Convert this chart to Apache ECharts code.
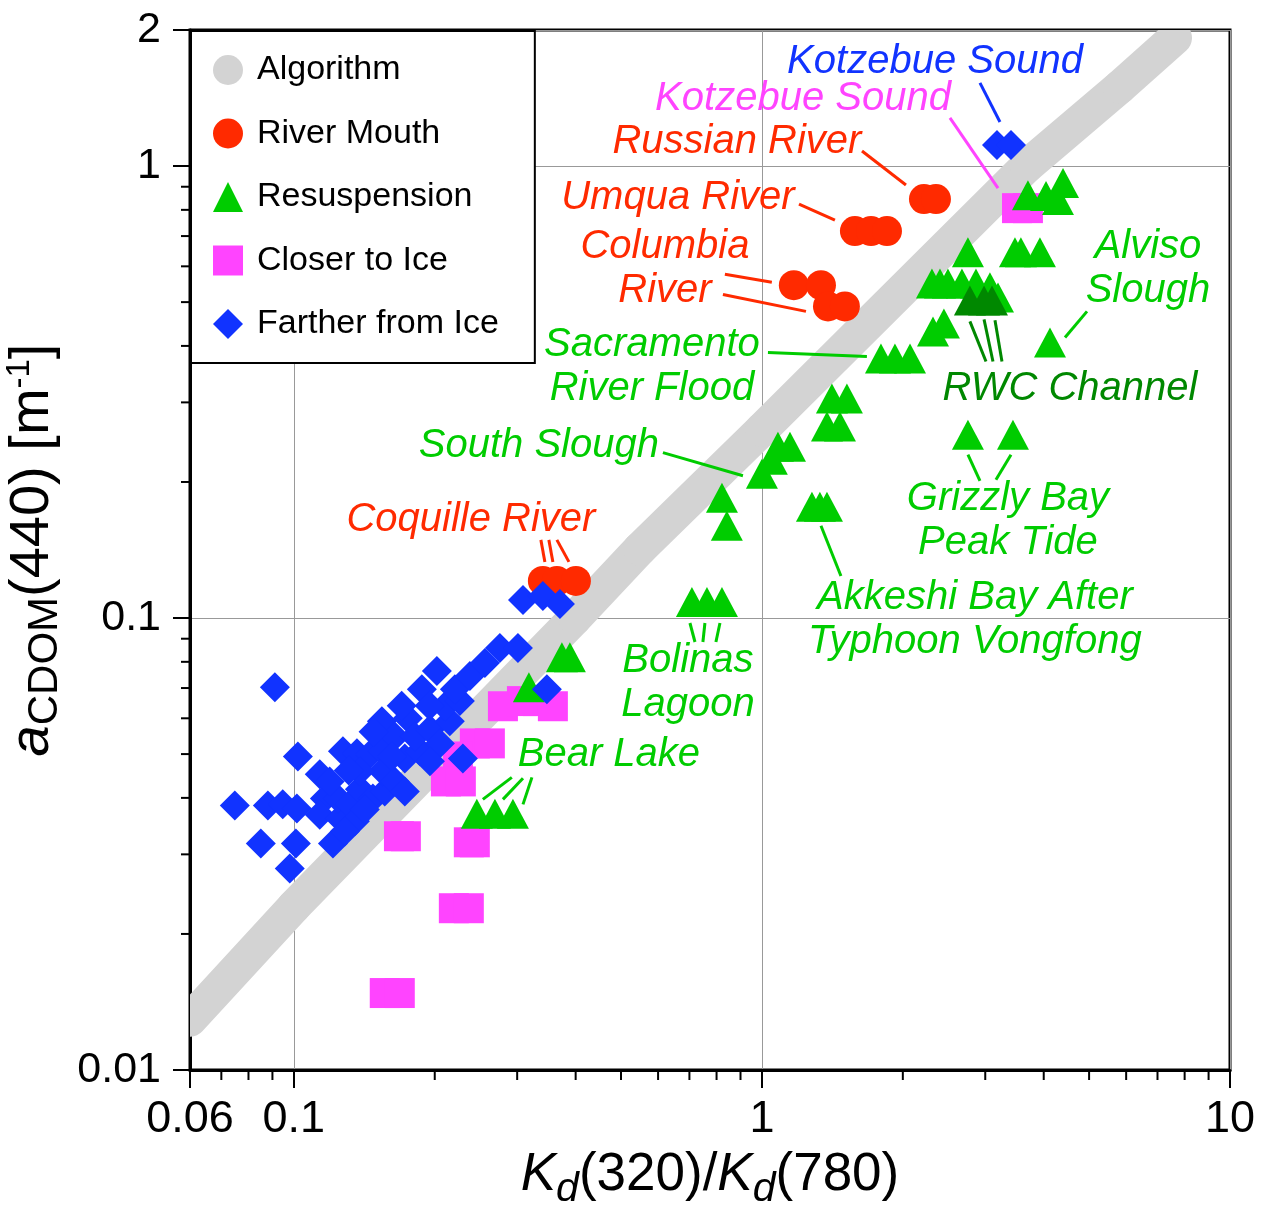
<!DOCTYPE html>
<html><head><meta charset="utf-8">
<script src="https://cdn.jsdelivr.net/npm/echarts@6/dist/echarts.min.js"></script>
<style>html,body{margin:0;padding:0;background:#fff}#c{width:1262px;height:1205px}</style>
</head><body><div id="c"></div>
<script>
const FONT = "'Liberation Sans', Arial, Helvetica, sans-serif";

// ---- Algorithm band (read along its centre) ----
const algorithmX = [0.05995, 0.1, 0.3985, 0.5487, 1.0, 3.683, 5.821, 7.630];
const algorithmY = [0.01291, 0.02298, 0.1, 0.1422, 0.2611, 1.0, 1.497, 1.922];

// ---- River Mouth ----
const riverX = [2.219, 2.354, 1.580, 1.710, 1.850, 1.170, 1.337, 1.384, 1.504, 0.3404, 0.3647, 0.4005];
const riverY = [0.845, 0.845, 0.718, 0.718, 0.718, 0.545, 0.545, 0.489, 0.489, 0.1208, 0.1208, 0.1208];

// ---- Resuspension ----
const resusX = [3.701, 4.045, 4.398, 4.290, 2.755, 3.472, 3.575, 3.926, 2.308, 2.401, 2.497, 2.675, 2.866, 3.070, 3.194,
  2.320, 2.448, 4.125, 1.796, 1.924, 2.072, 1.411, 1.519, 1.377, 1.468, 1.082, 1.148, 1.050, 1.0, 0.8215, 0.8415,
  1.279, 1.330, 1.377, 2.755, 3.438, 0.7087, 0.7631, 0.8215, 0.3738, 0.3888, 0.3178, 0.2460, 0.2689, 0.2938];
const resusY = [0.862, 0.858, 0.917, 0.841, 0.645, 0.645, 0.645, 0.645, 0.550, 0.550, 0.550, 0.550, 0.550, 0.539, 0.512,
  0.4306, 0.4486, 0.4072, 0.3752, 0.3752, 0.3752, 0.3059, 0.3059, 0.2652, 0.2652, 0.2394, 0.2394, 0.2240, 0.2086, 0.1845, 0.1600,
  0.1763, 0.1763, 0.1763, 0.2544, 0.2544, 0.1085, 0.1085, 0.1085, 0.0819, 0.0819, 0.0703, 0.0369, 0.0369, 0.0369];

// ---- RWC Channel (dark green resuspension) ----
const rwcX = [2.782, 2.982, 3.101];
const rwcY = [0.504, 0.504, 0.504];

// ---- Closer to Ice ----
const closeX = [3.507, 3.701, 0.2797, 0.3071, 0.3321, 0.3576, 0.2436, 0.2623, 0.2241, 0.2113, 0.2274,
  0.1677, 0.1735, 0.2365, 0.2436, 0.2197, 0.2365, 0.1564, 0.1684];
const closeY = [0.807, 0.807, 0.0638, 0.0655, 0.0655, 0.0638, 0.0528, 0.0528, 0.0494, 0.0435, 0.0435,
  0.0329, 0.0329, 0.0319, 0.0319, 0.0228, 0.0228, 0.0148, 0.0148];

// ---- Farther from Ice ----
const farX = [3.178, 3.405,
  0.0911, 0.0748, 0.0880, 0.0947, 0.1015, 0.0850, 0.1010, 0.0980, 0.1212, 0.1020,
  0.1136, 0.1165, 0.1136, 0.1254, 0.1242, 0.1273, 0.1364, 0.1454, 0.1549, 0.1317,
  0.1384, 0.1475, 0.1350, 0.1564, 0.1549, 0.1643, 0.1726, 0.1859, 0.1542, 0.1752,
  0.1643, 0.1814, 0.1953, 0.2051, 0.2154, 0.1877, 0.2021, 0.2102, 0.2263, 0.2208,
  0.2377, 0.2559, 0.2755, 0.3011, 0.3087, 0.3404, 0.3702, 0.3472, 0.2297,
  0.1418, 0.1285, 0.1620, 0.1384, 0.1953, 0.1726, 0.1193, 0.1310, 0.1480, 0.1700, 0.1950];
const farY = [1.113, 1.113,
  0.0703, 0.0385, 0.0385, 0.0387, 0.0379, 0.0317, 0.0317, 0.0279, 0.0317, 0.0494,
  0.0451, 0.0399, 0.0367, 0.0360, 0.0399, 0.0507, 0.0502, 0.0499, 0.0507, 0.0387,
  0.0418, 0.0399, 0.0355, 0.0413, 0.0458, 0.0435, 0.0489, 0.0507, 0.0591, 0.0600,
  0.0547, 0.0547, 0.0567, 0.0528, 0.0591, 0.0696, 0.0763, 0.0638, 0.0655, 0.0696,
  0.0744, 0.0795, 0.0858, 0.0858, 0.1096, 0.1119, 0.1074, 0.0696, 0.0489,
  0.0377, 0.0337, 0.0494, 0.0458, 0.0482, 0.0413, 0.0435, 0.0460, 0.0560, 0.0640, 0.0640];

// ---- Annotations (text centre in data units) ----
const annotationText = ['Kotzebue Sound', 'Kotzebue Sound', 'Russian River', 'Umqua River', 'Columbia\nRiver',
  'Sacramento\nRiver Flood', 'South Slough', 'Coquille River', 'Alviso\nSlough', 'RWC Channel',
  'Grizzly Bay\nPeak Tide', 'Akkeshi Bay After\nTyphoon Vongfong', 'Bolinas\nLagoon', 'Bear Lake'];
const annotationX = [2.343, 1.224, 0.8843, 0.6615, 0.6206, 0.5821, 0.3338, 0.2389, 6.679, 4.551, 3.355, 2.851, 0.6950, 0.4711];
const annotationY = [1.700, 1.408, 1.130, 0.849, 0.591, 0.360, 0.2406, 0.1650, 0.591, 0.3220, 0.1641, 0.0990, 0.0718, 0.0497];
const annotationGroup = ['far', 'close', 'river', 'river', 'river', 'resus', 'resus', 'river', 'resus', 'rwc', 'resus', 'resus', 'resus', 'resus'];

// ---- Leader lines (data units) ----
const leaderX1 = [2.923, 2.522, 1.636, 1.200, 0.8335, 0.8255, 1.030, 0.6145, 0.3371, 0.3506, 0.3647, 4.949, 2.782, 2.982, 3.147, 2.755, 3.405, 1.337, 0.7018, 0.7555, 0.8135, 0.2534, 0.2797, 0.3087];
const leaderY1 = [1.528, 1.278, 1.080, 0.824, 0.576, 0.520, 0.387, 0.2322, 0.1489, 0.1489, 0.1489, 0.477, 0.4532, 0.4578, 0.4556, 0.2298, 0.2298, 0.1600, 0.0975, 0.0975, 0.0975, 0.0397, 0.0397, 0.0387];
const leaderX2 = [3.225, 3.194, 2.031, 1.432, 1.050, 1.242, 1.676, 0.9109, 0.3438, 0.3576, 0.3870, 4.441, 3.011, 3.116, 3.257, 2.923, 3.162, 1.475, 0.7194, 0.7480, 0.7974, 0.2922, 0.3087, 0.3226];
const leaderY2 = [1.252, 0.894, 0.908, 0.759, 0.553, 0.477, 0.379, 0.2065, 0.1331, 0.1331, 0.1331, 0.4177, 0.3695, 0.3695, 0.3695, 0.2012, 0.2023, 0.1239, 0.0885, 0.0885, 0.0885, 0.0444, 0.0442, 0.0444];
const leaderGroup = ['far', 'close', 'river', 'river', 'river', 'river', 'resus', 'resus', 'river', 'river', 'river', 'resus', 'rwc', 'rwc', 'rwc', 'resus', 'resus', 'resus', 'resus', 'resus', 'resus', 'resus', 'resus', 'resus'];

// ---- Axis ticks ----
const xMin = 0.06, xMax = 10, yMin = 0.01, yMax = 2;
const xMinorTicks = [0.07, 0.08, 0.09, 0.2, 0.3, 0.4, 0.5, 0.6, 0.7, 0.8, 0.9, 2, 3, 4, 5, 6, 7, 8, 9];
const yMinorTicks = [0.02, 0.03, 0.04, 0.05, 0.06, 0.07, 0.08, 0.09, 0.2, 0.3, 0.4, 0.5, 0.6, 0.7, 0.8, 0.9];

const COLORS = { far: '#1133ff', close: '#ff44ff', river: '#ff2a00', resus: '#00cc00', rwc: '#008800', algo: '#d3d3d3' };
const zip = (a, b) => a.map((v, i) => [v, b[i]]);
const fmt = v => String(+(+v).toPrecision(3));

const chart = echarts.init(document.getElementById('c'), null, { renderer: 'canvas' });
chart.setOption({
  animation: false,
  backgroundColor: '#fff',
  grid: { left: 190, right: 32, top: 30, bottom: 135, show: true, borderColor: '#000', borderWidth: 3,
    backgroundColor: 'transparent', containLabel: false, outerBoundsMode: 'none' },
  legend: {
    orient: 'vertical', left: 191, top: 31, padding: [22, 36, 22, 22], itemGap: 29.5, itemWidth: 30, itemHeight: 30,
    backgroundColor: '#fff', borderColor: '#000', borderWidth: 2, selectedMode: false, z: 20,
    textStyle: { fontSize: 34, fontFamily: FONT, color: '#000', padding: [0, 0, 0, 9] },
    data: [
      { name: 'Algorithm', icon: 'circle', itemStyle: { color: COLORS.algo } },
      { name: 'River Mouth', icon: 'circle' },
      { name: 'Resuspension', icon: 'triangle' },
      { name: 'Closer to Ice', icon: 'rect' },
      { name: 'Farther from Ice', icon: 'diamond' }
    ]
  },
  xAxis: {
    type: 'log', logBase: 10, min: xMin, max: xMax,
    axisLine: { show: true, onZero: false, lineStyle: { color: '#000', width: 3 } },
    axisTick: { show: true, inside: false, length: 18, lineStyle: { color: '#000', width: 2 } },
    axisLabel: { fontSize: 45, color: '#000', fontFamily: FONT, margin: 27, formatter: fmt, showMinLabel: true, showMaxLabel: true },
    splitLine: { show: true, lineStyle: { color: '#999', width: 1 } },
    name: '{k|K}{sub|d}{n|(320)/}{k|K}{sub|d}{n|(780)}',
    nameLocation: 'middle', nameGap: 71,
    nameTextStyle: {
      color: '#000', fontFamily: FONT,
      rich: {
        k: { fontSize: 53, fontStyle: 'italic', fontFamily: FONT, color: '#000' },
        sub: { fontSize: 41, fontStyle: 'italic', fontFamily: FONT, color: '#000', padding: [28, 0, 0, 0] },
        n: { fontSize: 53, fontFamily: FONT, color: '#000' }
      }
    }
  },
  yAxis: {
    type: 'log', logBase: 10, min: yMin, max: yMax,
    axisLine: { show: true, onZero: false, lineStyle: { color: '#000', width: 3 } },
    axisTick: { show: true, inside: false, length: 17, lineStyle: { color: '#000', width: 2 } },
    axisLabel: { fontSize: 43, color: '#000', fontFamily: FONT, margin: 29, formatter: fmt, showMinLabel: true, showMaxLabel: true },
    splitLine: { show: true, lineStyle: { color: '#999', width: 1 } },
    name: '{a|a}{sub|CDOM}{n|(440) [m}{sup|-1}{n|]}',
    nameLocation: 'middle', nameGap: 118, nameRotate: 90,
    nameTextStyle: {
      color: '#000', fontFamily: FONT,
      rich: {
        a: { fontSize: 56, fontStyle: 'italic', fontFamily: FONT, color: '#000' },
        sub: { fontSize: 42, fontFamily: FONT, color: '#000', padding: [26, 0, 0, 0] },
        n: { fontSize: 56, fontFamily: FONT, color: '#000' },
        sup: { fontSize: 33, fontFamily: FONT, color: '#000', padding: [0, 0, 26, 0] }
      }
    }
  },
  series: [
    { name: 'Algorithm', type: 'custom', clip: true, silent: true, z: 1,
      itemStyle: { color: COLORS.algo },
      data: zip(algorithmX, algorithmY),
      encode: { x: 0, y: 1 },
      renderItem: (params, api) => {
        const i = params.dataIndex;
        const p = api.coord([api.value(0), api.value(1)]);
        const q = i > 0 ? api.coord([algorithmX[i - 1], algorithmY[i - 1]]) : p;
        return { type: 'line', shape: { x1: q[0], y1: q[1], x2: p[0], y2: p[1] },
          style: { stroke: COLORS.algo, lineWidth: 34, lineCap: 'round' } };
      } },
    { name: 'Closer to Ice', type: 'scatter', data: zip(closeX, closeY), symbol: 'rect', symbolSize: 30,
      itemStyle: { color: COLORS.close, opacity: 1 }, z: 2, silent: true },
    { name: 'Resuspension', type: 'scatter', data: zip(resusX, resusY), symbol: 'triangle', symbolSize: [32, 30],
      itemStyle: { color: COLORS.resus, opacity: 1 }, z: 3, silent: true },
    { name: 'RWC Channel', type: 'scatter', data: zip(rwcX, rwcY), symbol: 'triangle', symbolSize: [32, 30],
      itemStyle: { color: COLORS.rwc, opacity: 1 }, z: 3, silent: true },
    { name: 'River Mouth', type: 'scatter', data: zip(riverX, riverY), symbol: 'circle', symbolSize: 30,
      itemStyle: { color: COLORS.river, opacity: 1 }, z: 4, silent: true },
    { name: 'Farther from Ice', type: 'scatter', data: zip(farX, farY), symbol: 'diamond', symbolSize: 30,
      itemStyle: { color: COLORS.far, opacity: 1 }, z: 5, silent: true },
    { name: 'leaders', type: 'custom', z: 6, silent: true,
      data: leaderX1.map((v, i) => [v, leaderY1[i], leaderX2[i], leaderY2[i], i]),
      encode: { x: [0, 2], y: [1, 3] },
      renderItem: (params, api) => {
        const p1 = api.coord([api.value(0), api.value(1)]);
        const p2 = api.coord([api.value(2), api.value(3)]);
        const g = leaderGroup[api.value(4)];
        return { type: 'line', shape: { x1: p1[0], y1: p1[1], x2: p2[0], y2: p2[1] },
          style: { stroke: COLORS[g], lineWidth: 3 } };
      } },
    { name: 'annotations', type: 'custom', z: 7, silent: true,
      data: annotationX.map((v, i) => [v, annotationY[i], i]),
      encode: { x: 0, y: 1 },
      renderItem: (params, api) => {
        const p = api.coord([api.value(0), api.value(1)]);
        const i = api.value(2);
        return { type: 'text', x: p[0], y: p[1],
          style: { text: annotationText[i], fill: COLORS[annotationGroup[i]], fontSize: 40, fontStyle: 'italic',
            fontFamily: FONT, align: 'center', verticalAlign: 'middle', lineHeight: 44 } };
      } },
    { name: 'xMinor', type: 'custom', z: 8, silent: true, clip: false,
      data: xMinorTicks.map(v => [v, yMin]),
      encode: { x: 0, y: 1 },
      renderItem: (params, api) => {
        const p = api.coord([api.value(0), api.value(1)]);
        return { type: 'line', shape: { x1: p[0], y1: p[1], x2: p[0], y2: p[1] + 10 }, style: { stroke: '#000', lineWidth: 2 } };
      } },
    { name: 'yMinor', type: 'custom', z: 8, silent: true, clip: false,
      data: yMinorTicks.map(v => [xMin, v]),
      encode: { x: 0, y: 1 },
      renderItem: (params, api) => {
        const p = api.coord([api.value(0), api.value(1)]);
        return { type: 'line', shape: { x1: p[0], y1: p[1], x2: p[0] - 9, y2: p[1] }, style: { stroke: '#000', lineWidth: 2 } };
      } }
  ]
});
</script>
</body></html>
